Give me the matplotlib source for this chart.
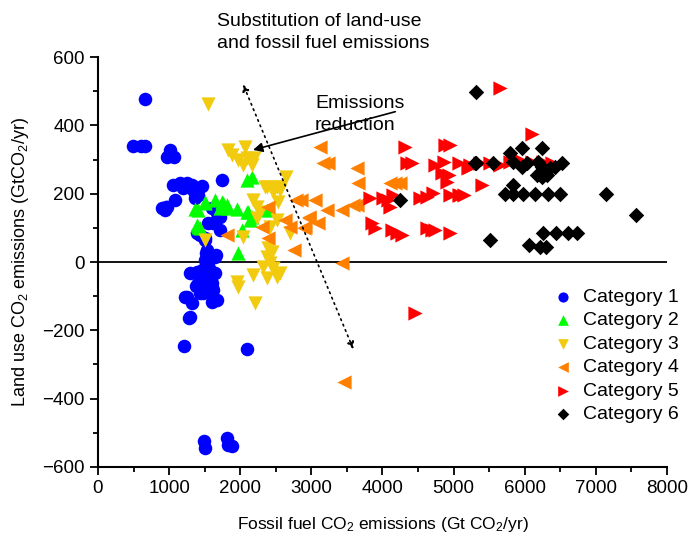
import matplotlib
matplotlib.use("Agg")
import matplotlib.pyplot as plt
from matplotlib.ticker import MultipleLocator

plt.rcParams['font.family'] = ['Liberation Sans', 'DejaVu Sans']
plt.rcParams['mathtext.fontset'] = 'custom'
plt.rcParams['mathtext.rm'] = 'Liberation Sans'
plt.rcParams['mathtext.it'] = 'Liberation Sans:italic'
plt.rcParams['mathtext.default'] = 'regular'

# Category 1
x1 = [660, 490, 610, 660, 1010, 975, 1070, 1750, 1060, 1150, 1250, 1320, 1200, 1340, 1460, 1410, 1360,
      940, 970, 1080, 1600, 1670, 1620, 1715, 1715, 1550, 1430, 1500, 1530, 1550, 1645, 1500, 1520, 1660,
      1390, 1500, 1290, 1390, 1460, 1575, 1645, 1480, 1575, 1410, 1500, 1600, 1430, 1530, 1620, 1250,
      1320, 1600, 1670, 1290, 1220, 1280, 1210, 2100, 1490, 1500, 1820, 1880, 1830, 1540, 1560, 1600,
      1480, 1380, 900, 960]
y1 = [476, 340, 340, 340, 328, 308, 308, 240, 225, 230, 230, 225, 216, 211, 222, 196, 186,
      152, 162, 181, 157, 143, 113, 94, 133, 113, 79, 69, 35, 16, 16, 6, 27, 20,
      84, 64, -33, -28, -23, -23, -33, -48, -53, -62, -72, -72, -92, -87, -82, -102,
      -121, -116, -111, -160, -103, -165, -246, -255, -523, -545, -516, -539, -536, -10, -40, -60,
      -90, -70, 157, 162]
# Category 2
x2 = [2160, 2090, 1360, 1500, 1645, 1740, 1810, 1830, 1715, 1950, 2110, 2160, 2370, 1390, 1430, 2020,
      1970, 2140, 1410, 1500, 1760, 2090, 1400]
y2 = [250, 240, 154, 176, 181, 176, 167, 157, 157, 154, 147, 133, 152, 108, 99, 94,
      25, 123, 152, 174, 172, 147, 103]
# Category 3
x3 = [1550, 1830, 1880, 1970, 2070, 2040, 2160, 2090, 2200, 2650, 2350, 2510, 2465, 2560, 2370, 2465,
      2560, 2535, 2185, 2230, 2280, 2230, 2510, 2420, 2700, 2040, 1500, 2395, 2440, 2370, 2420, 2325,
      2465, 2185, 2370, 2560, 2510, 1950, 1970, 2210]
y3 = [462, 328, 313, 299, 337, 284, 284, 304, 304, 250, 220, 220, 206, 211, 220, 211,
      220, 176, 181, 162, 147, 128, 123, 103, 84, 74, 64, 40, 30, 16, -4, -14,
      -18, -38, -48, -33, -43, -58, -72, -121]
# Category 4
x4 = [3120, 3170, 3240, 3640, 3660, 4110, 4180, 4250, 2860, 3050, 3640, 3215, 3430, 2960, 3100, 2890,
      2630, 2750, 3430, 2395, 2300, 1810, 2700, 2960, 2910, 3590, 2790, 2395, 3460]
y4 = [337, 289, 289, 274, 230, 230, 230, 230, 181, 181, 167, 152, 152, 133, 113, 99,
      123, 35, -4, 162, 103, 79, 103, 128, 103, 167, 181, 69, -351]
# Category 5
x5 = [4320, 4880, 4950, 4340, 4410, 4740, 4860, 5070, 5230, 4830, 4930, 4900, 3820, 4010, 4080, 4150,
      4530, 4620, 4715, 4950, 5070, 5140, 4110, 3850, 3900, 4130, 4200, 4270, 4620, 4690, 4740, 4950,
      5650, 6100, 5400, 4460, 5090, 5230, 5370, 5510, 5650, 5790, 5930, 6100, 6260, 6380, 5200]
y5 = [337, 342, 342, 289, 289, 284, 294, 289, 279, 260, 255, 235, 186, 186, 181, 196,
      186, 191, 201, 196, 196, 196, 162, 113, 99, 94, 84, 79, 99, 94, 94, 84,
      508, 375, 225, -150, 196, 284, 289, 289, 284, 294, 299, 294, 294, 289, 275]
# Category 6
x6 = [5320, 5960, 5790, 6240, 5320, 5560, 5840, 5960, 6030, 6190, 6240, 6355, 6520, 6425, 6170, 6240,
      6310, 5830, 5720, 5840, 5980, 6140, 6330, 6500, 7140, 7570, 5510, 6260, 6440, 6610, 6730, 6060,
      6210, 6300, 4250, 5300]
y6 = [498, 333, 318, 333, 289, 289, 294, 279, 289, 294, 279, 274, 289, 279, 255, 250,
      255, 225, 198, 198, 198, 198, 198, 198, 199, 138, 64, 86, 86, 86, 86, 50,
      45, 45, 181, 289]

labels = ['Category 1', 'Category 2', 'Category 3', 'Category 4', 'Category 5', 'Category 6']
colors = ['#0000FF', '#00FF00', '#F2CA0E', '#FF8000', '#FF0000', '#000000']
markers = ['o', '^', 'v', '<', '>', 'D']
sizes = [95, 105, 105, 105, 105, 62]
series = [(x1, y1), (x2, y2), (x3, y3), (x4, y4), (x5, y5), (x6, y6)]

fig = plt.figure(figsize=(6.88, 5.41), dpi=100)
ax = fig.add_axes([0.1424, 0.1368, 0.8271, 0.7578])

for (xs, ys), lab, c, m, s in zip(series, labels, colors, markers, sizes):
    ax.scatter(xs, ys, s=s, c=c, marker=m, label=lab, linewidths=0, zorder=3)

ax.axhline(0, color='black', lw=1.3, zorder=2)

ax.set_xlim(0, 8000)
ax.set_ylim(-600, 600)
ax.xaxis.set_major_locator(MultipleLocator(1000))
ax.xaxis.set_minor_locator(MultipleLocator(500))
ax.yaxis.set_major_locator(MultipleLocator(200))
ax.yaxis.set_minor_locator(MultipleLocator(100))
ax.tick_params(which='major', direction='out', length=6, width=1.3, labelsize=13.5)
ax.tick_params(which='minor', direction='out', length=3.5, width=1.3)
for sp in ['top', 'right']:
    ax.spines[sp].set_visible(False)
for sp in ['left', 'bottom']:
    ax.spines[sp].set_linewidth(1.5)

ax.set_xlabel('Fossil fuel CO$_2$ emissions (Gt CO$_2$/yr)', fontsize=12.5, labelpad=13)
ax.set_ylabel('Land use CO$_2$ emissions (GtCO$_2$/yr)', fontsize=13, labelpad=8)

leg = ax.legend(loc='upper left', bbox_to_anchor=(0.779, 0.455), frameon=False, fontsize=14,
                handlelength=1.4, handletextpad=0.33, labelspacing=0.3, borderaxespad=0,
                markerscale=0.75)

# Annotations
ax.text(1673, 730, 'Substitution of land-use\nand fossil fuel emissions', fontsize=14,
        ha='left', va='top', clip_on=False, linespacing=1.42)
ax.annotate('', xy=(2040, 520), xytext=(3590, -255),
            arrowprops=dict(arrowstyle='<|-|>', linestyle=(0, (1, 2.5)), color='black', lw=1.2,
                            mutation_scale=10, shrinkA=0, shrinkB=0), annotation_clip=False)
ax.text(3051, 488, 'Emissions\nreduction', fontsize=14, ha='left', va='top', linespacing=1.35)
ax.annotate('', xy=(2180, 328), xytext=(4180, 440),
            arrowprops=dict(arrowstyle='-|>', color='black', lw=1.2, mutation_scale=14,
                            shrinkA=0, shrinkB=0))

fig.savefig('out.png', dpi=100)
